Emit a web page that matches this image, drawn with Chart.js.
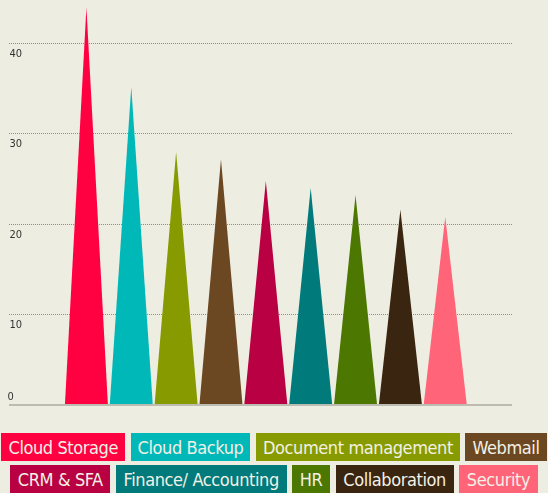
<!DOCTYPE html>
<html>
<head>
<meta charset="utf-8">
<script src="https://cdn.jsdelivr.net/npm/chart.js@4"></script>
<style>
  html, body { margin: 0; padding: 0; background: #EEEDE2; }
  body { width: 548px; height: 493px; overflow: hidden; font-family: "DejaVu Sans Condensed", "DejaVu Sans", sans-serif; font-stretch: condensed; }
  #wrap { position: relative; width: 548px; height: 410px; }
  #legend { position: absolute; top: 433px; left: 0; width: 548px; display: flex; flex-wrap: wrap; justify-content: center; column-gap: 5.5px; row-gap: 4px; }
  #legend span { display: inline-block; height: 28px; line-height: 29px; padding: 0 7px; font-size: 18px; letter-spacing: -0.4px; color: #F3F1E6; white-space: nowrap; }
  #legend span.wide { padding: 0 7.7px; }
</style>
</head>
<body>
<div id="wrap"><canvas id="spikes"></canvas></div>
<div id="legend"></div>
<script>
/*chart data*/
const categories = [
  'Cloud Storage',
  'Cloud Backup',
  'Document management',
  'Webmail',
  'CRM & SFA',
  'Finance/ Accounting',
  'HR',
  'Collaboration',
  'Security',
];
const values = [44, 35.2, 28, 27.2, 24.8, 24, 23.2, 21.6, 20.8];
const colors = ['#FF0040', '#00B8B8', '#879B00', '#6B4722', '#B90042', '#007A7A', '#4C7700', '#3A2510', '#FF6478'];
const yTicks = [0, 10, 20, 30, 40];

/*draw each bar as a triangle from its base to its top*/
const spikePlugin = {
  id: 'spikes',
  beforeDatasetDraw(chart, args) {
    const ctx = chart.ctx;
    args.meta.data.forEach(function (bar) {
      const p = bar.getProps(['x', 'y', 'base', 'width'], true);
      ctx.save();
      ctx.fillStyle = bar.options.backgroundColor;
      ctx.beginPath();
      ctx.moveTo(p.x - p.width / 2, p.base);
      ctx.lineTo(p.x, p.y);
      ctx.lineTo(p.x + p.width / 2, p.base);
      ctx.closePath();
      ctx.fill();
      ctx.restore();
    });
    return false;
  }
};

// tiny lineHeight so the mirrored labels do not push the chart area in
const font = { family: '"DejaVu Sans Condensed", "DejaVu Sans", sans-serif', size: 11, lineHeight: 0.01 };

const data = {
  datasets: [{
    label: 'Services',
    data: values.map((v, i) => ({ x: i, y: v })),
    backgroundColor: colors,
    barPercentage: 0.957,
    categoryPercentage: 1,
  }]
};

const keepTicks = function (scale) {
  scale.ticks = scale.ticks.filter(t => yTicks.includes(t.value));
};

const config = {
  type: 'bar',
  data: data,
  options: {
    responsive: true,
    maintainAspectRatio: false,
    animation: false,
    layout: { padding: { left: 4.5, right: 36, top: 0, bottom: 5 } },
    plugins: { legend: { display: false }, tooltip: { enabled: false } },
    scales: {
      x: {
        type: 'linear',
        offset: false,
        min: -1.737,
        max: 9.488,
        display: false,
      },
      y: {
        min: 0,
        max: 44.7,
        afterBuildTicks: keepTicks,
        ticks: {
          stepSize: 10,
          mirror: true,
          padding: 1,
          labelOffset: 10.5,
          color: '#333',
          font: font,
          callback: v => (v === 0 ? '' : v),
        },
        grid: {
          drawTicks: false,
          color: c => (c.tick && c.tick.value === 0 ? '#BDBCB2' : '#8E8E88'),
          lineWidth: c => (c.tick && c.tick.value === 0 ? 2 : 1),
        },
        border: {
          display: false,
          dash: c => (c.tick && c.tick.value === 0 ? [] : [1, 1]),
        },
      },
      y0: {
        position: 'left',
        min: 0,
        max: 44.7,
        afterBuildTicks: function (scale) {
          scale.ticks = scale.ticks.filter(t => t.value === 0);
        },
        ticks: {
          stepSize: 10,
          mirror: true,
          padding: 1,
          labelOffset: -8,
          color: '#333',
          font: font,
        },
        grid: { display: false, drawTicks: false },
        border: { display: false },
      }
    }
  },
  plugins: [spikePlugin]
};

var spikeChart = new Chart(document.getElementById('spikes'), config);

/*legend boxes*/
const legend = document.getElementById('legend');
categories.forEach(function (name, i) {
  const item = document.createElement('span');
  item.textContent = name;
  item.style.background = colors[i];
  if (i > 3) item.className = 'wide';
  legend.appendChild(item);
});
</script>
</body>
</html>
